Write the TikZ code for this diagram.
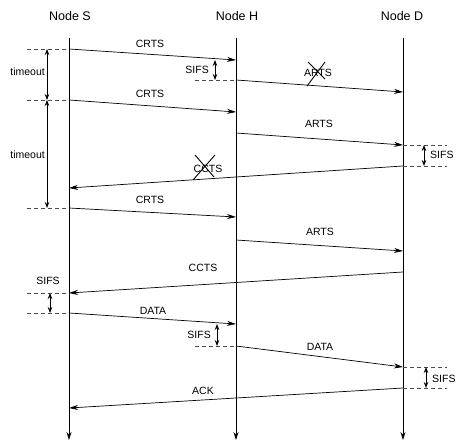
\documentclass[tikz,border=0pt]{standalone}
\usepackage{fontspec}
\setmainfont{Liberation Sans}
\usetikzlibrary{arrows.meta}
\begin{document}
\begin{tikzpicture}[x=1pt,y=-1pt,
  life/.style={line width=0.7pt,-{Stealth[length=8pt,width=5pt]}},
  msg/.style={line width=0.7pt,-{Stealth[length=9pt,width=5pt]}},
  gap/.style={line width=0.5pt,dash pattern=on 4pt off 3pt,black!70},
  dur/.style={line width=0.8pt,{Stealth[length=6pt,width=4.5pt]}-{Stealth[length=6pt,width=4.5pt]}},
  lbl/.style={font=\fontsize{10.5}{12}\selectfont,inner sep=1pt},
  ttl/.style={font=\fontsize{12.5}{14}\selectfont,inner sep=1pt},
  xmark/.style={line width=0.9pt}]
\useasboundingbox (0,0) rectangle (463,441);
% titles
\node[ttl] (tS) at (70,16) {Node S};
\node[ttl] (tH) at (237,16) {Node H};
\node[ttl] (tD) at (402,16) {Node D};
% lifelines
\coordinate (S0) at (69,38); \coordinate (S1) at (69,440);
\coordinate (H0) at (236,38); \coordinate (H1) at (236,440);
\coordinate (D0) at (403,38); \coordinate (D1) at (403,440);
\draw[life] (S0) -- (S1);
\draw[life] (H0) -- (H1);
\draw[life] (D0) -- (D1);
% endpoints
\coordinate (sA) at (69,49);  \coordinate (hA) at (236,60);
\coordinate (hB) at (236,80); \coordinate (dB) at (403,92);
\coordinate (sC) at (69,100); \coordinate (hC) at (236,112);
\coordinate (hD) at (236,133); \coordinate (dD) at (403,145);
\coordinate (dE) at (403,166); \coordinate (sE) at (69,188);
\coordinate (sF) at (69,208); \coordinate (hF) at (236,217);
\coordinate (hG) at (236,240); \coordinate (dG) at (403,251);
\coordinate (dH) at (403,272); \coordinate (sH) at (69,293);
\coordinate (sI) at (69,313); \coordinate (hI) at (236,324);
\coordinate (hJ) at (236,346); \coordinate (dJ) at (403,367);
\coordinate (dK) at (403,388); \coordinate (sK) at (69,408);
% dashed gap marks
\coordinate (lA) at (27,49);  \coordinate (lC) at (27,100); \coordinate (lF) at (27,208);
\coordinate (lH) at (27,293); \coordinate (lI) at (27,313);
\coordinate (mB) at (195,80);
\coordinate (mJ) at (195,346);
\coordinate (rD) at (447,145); \coordinate (rE) at (447,166);
\coordinate (rJ) at (447,367); \coordinate (rK) at (447,388);
\draw[gap] (lA) -- (sA);
\draw[gap] (lC) -- (sC);
\draw[gap] (lF) -- (sF);
\draw[gap] (lH) -- (sH);
\draw[gap] (lI) -- (sI);
\draw[gap] (mB) -- (hB);
\draw[gap] (mJ) -- (hJ);
\draw[gap] (dD) -- (rD);
\draw[gap] (dE) -- (rE);
\draw[gap] (dJ) -- (rJ);
\draw[gap] (dK) -- (rK);
% messages
\draw[msg] (sA) -- (hA);
\node[lbl] (l1) at (150,44) {CRTS};
\draw[msg] (hB) -- (dB);
\node[lbl] (l2) at (318,73) {ARTS};
\draw[xmark] (308,62) -- (325,79) (325,62) -- (307,86);
\draw[msg] (sC) -- (hC);
\node[lbl] (l3) at (150,94) {CRTS};
\draw[msg] (hD) -- (dD);
\node[lbl] (l4) at (319,124) {ARTS};
\draw[msg] (dE) -- (sE);
\node[lbl] (l5) at (208,169) {CCTS};
\draw[xmark] (195,155) -- (214,177) (215,155) -- (193,180);
\draw[msg] (sF) -- (hF);
\node[lbl] (l6) at (150,200) {CRTS};
\draw[msg] (hG) -- (dG);
\node[lbl] (l7) at (320,232) {ARTS};
\draw[msg] (dH) -- (sH);
\node[lbl] (l8) at (203,268) {CCTS};
\draw[msg] (sI) -- (hI);
\node[lbl] (l9) at (153,311) {DATA};
\draw[msg] (hJ) -- (dJ);
\node[lbl] (l10) at (320,347) {DATA};
\draw[msg] (dK) -- (sK);
\node[lbl] (l11) at (203,391) {ACK};
% duration arrows
\coordinate (tA) at (47,49); \coordinate (tC) at (47,100); \coordinate (tF) at (47,208);
\draw[dur] (tA) -- (tC);
\draw[dur] (tC) -- (tF);
\node[lbl,anchor=east] (to1) at (46,72) {timeout};
\node[lbl,anchor=east] (to2) at (46,155) {timeout};
\coordinate (u1) at (215,60); \coordinate (u2) at (215,80);
\draw[dur] (u1) -- (u2);
\node[lbl,anchor=east] (s1) at (210,70) {SIFS};
\coordinate (v1) at (424,145); \coordinate (v2) at (424,166);
\draw[dur] (v1) -- (v2);
\node[lbl,anchor=west] (s2) at (429,155) {SIFS};
\coordinate (w1) at (50,293); \coordinate (w2) at (50,313);
\draw[dur] (w1) -- (w2);
\node[lbl] (s3) at (48,281) {SIFS};
\coordinate (x1) at (217,324); \coordinate (x2) at (217,346);
\draw[dur] (x1) -- (x2);
\node[lbl,anchor=east] (s4) at (212,335) {SIFS};
\coordinate (z1) at (426,367); \coordinate (z2) at (426,388);
\draw[dur] (z1) -- (z2);
\node[lbl,anchor=west] (s5) at (431,379) {SIFS};
\end{tikzpicture}
\end{document}
